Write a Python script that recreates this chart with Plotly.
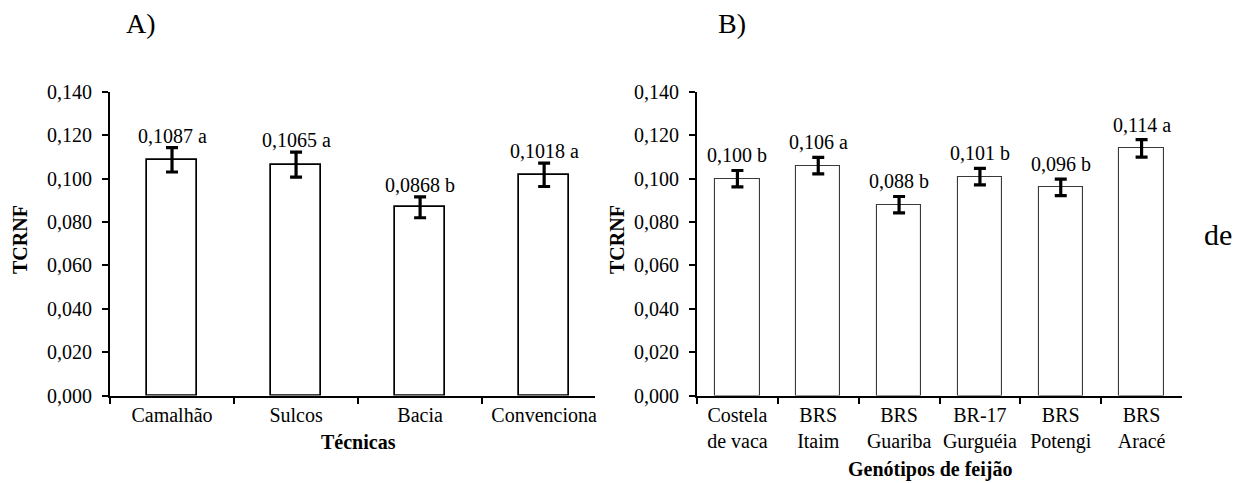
import plotly.graph_objects as go

# Panel A: irrigation techniques
tecnicas = ["Camalhão", "Sulcos", "Bacia", "Convenciona"]
tcrnf_a = [0.1087, 0.1065, 0.0868, 0.1018]
erro_a = [0.0056, 0.0058, 0.0048, 0.0054]
letras_a = ["a", "a", "b", "a"]

# Panel B: bean genotypes
genotipos = ["Costela<br>de vaca", "BRS<br>Itaim", "BRS<br>Guariba", "BR-17<br>Gurguéia",
             "BRS<br>Potengi", "BRS<br>Aracé"]
tcrnf_b = [0.100, 0.106, 0.088, 0.101, 0.096, 0.114]
erro_b = [0.0038, 0.0038, 0.0038, 0.0038, 0.0038, 0.0040]
letras_b = ["b", "a", "b", "b", "b", "a"]

FONT = "'Liberation Serif', 'Times New Roman', serif"
W, H = 1249, 483

fig = go.Figure()

fig.add_trace(go.Bar(
    x=tecnicas, y=tcrnf_a, width=0.4,
    marker=dict(color="white", line=dict(color="black", width=1.7)),
    error_y=dict(type="data", array=erro_a, color="black", thickness=3.2, width=6),
    xaxis="x", yaxis="y", showlegend=False,
))
fig.add_trace(go.Bar(
    x=genotipos, y=tcrnf_b, width=0.55,
    marker=dict(color="white", line=dict(color="#3a3a3a", width=1.1)),
    error_y=dict(type="data", array=erro_b, color="black", thickness=3.2, width=6),
    xaxis="x2", yaxis="y2", showlegend=False,
))

annotations = []
for cat, v, e, l in zip(tecnicas, tcrnf_a, erro_a, letras_a):
    annotations.append(dict(
        x=cat, y=v + e, xref="x", yref="y", xanchor="center", yanchor="bottom", yshift=-1,
        text=f"{v:.4f}".replace(".", ",") + " " + l, showarrow=False,
        font=dict(family=FONT, size=20, color="black"),
    ))
for cat, v, e, l in zip(genotipos, tcrnf_b, erro_b, letras_b):
    annotations.append(dict(
        x=cat, y=v + e, xref="x2", yref="y2", xanchor="center", yanchor="bottom", yshift=2,
        text=f"{v:.3f}".replace(".", ",") + " " + l, showarrow=False,
        font=dict(family=FONT, size=20, color="black"),
    ))


def px_x(p):
    return p / W


def px_y(p):
    return 1 - p / H


def label(x, y, text, size, angle=0):
    return dict(x=px_x(x), y=px_y(y), xref="paper", yref="paper", text=text,
                xanchor="center", yanchor="middle", textangle=angle, showarrow=False,
                font=dict(family=FONT, size=size, color="black"))


# Panel letters, axis titles and the stray word on the right
annotations += [
    label(141, 23, "A)", 28),
    label(732, 23, "B)", 28),
    label(1218, 234, "de", 30),
    label(20, 240, "<b>TCRNF</b>", 20, -90),
    label(617, 240, "<b>TCRNF</b>", 20, -90),
    label(358, 442, "<b>Técnicas</b>", 20),
    label(930, 469, "<b>Genótipos de feijão</b>", 20),
]

y_top, y_bot = 92, 395.5
yaxis_common = dict(
    range=[0, 0.14], dtick=0.02, tickformat=".3f", showgrid=False, zeroline=False,
    showline=True, linecolor="black", linewidth=2, ticks="outside", ticklen=6,
    tickwidth=1.5, tickcolor="black", automargin=False, ticklabelstandoff=6,
    tickfont=dict(family=FONT, size=20, color="black"),
    domain=[px_y(y_bot), px_y(y_top)],
)
xaxis_common = dict(
    showgrid=False, zeroline=False, showline=True, linecolor="black", linewidth=2,
    ticks="outside", ticklen=6, tickwidth=1.5, tickcolor="black", tickson="boundaries",
    tickangle=0, automargin=False,
    tickfont=dict(family=FONT, size=20, color="black"),
)

fig.update_layout(
    width=W, height=H,
    margin=dict(l=0, r=0, t=0, b=0),
    paper_bgcolor="white", plot_bgcolor="white",
    separators=",.",
    font=dict(family=FONT, size=20, color="black"),
    xaxis=dict(xaxis_common, domain=[px_x(110), px_x(595)], range=[-0.5, 3.41],
               anchor="y"),
    yaxis=dict(yaxis_common, anchor="x"),
    xaxis2=dict(xaxis_common, domain=[px_x(697), px_x(1182)], range=[-0.5, 5.5],
                anchor="y2"),
    yaxis2=dict(yaxis_common, anchor="x2"),
    annotations=annotations,
    bargap=0,
)

fig.write_html("out.html")
